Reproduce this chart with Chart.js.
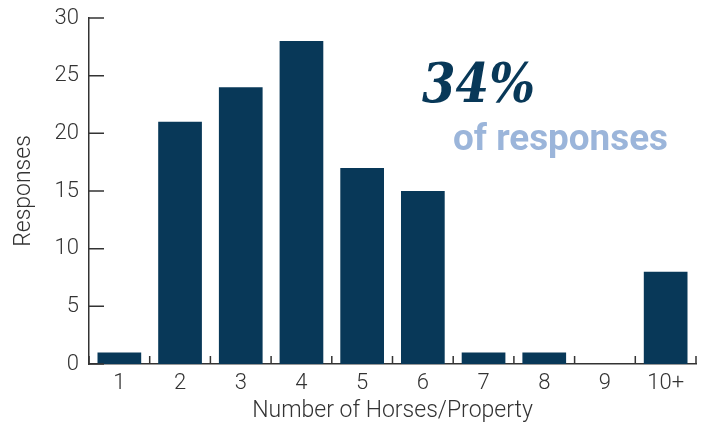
<!DOCTYPE html>
<html>
<head>
<meta charset="utf-8">
<script src="https://cdn.jsdelivr.net/npm/chart.js@4"></script>
<style>
  html, body { margin: 0; padding: 0; background: #fff; }
  #wrap { width: 706px; height: 425px; }
</style>
</head>
<body>
<div id="wrap"><canvas id="horses"></canvas></div>
<script>
const categories = ["1", "2", "3", "4", "5", "6", "7", "8", "9", "10+"]
const responses = [1, 21, 24, 28, 17, 15, 1, 1, 0, 8]
const yTicks = [0, 5, 10, 15, 20, 25, 30]

const barColor = "#083858"
const axisColor = "#333333"
const serifFont = "italic 700 54px 'DejaVu Serif', 'Liberation Serif', serif"

// ticks point into the plot, so draw them by hand from the scales
const inwardTicks = {
    id: "inwardTicks",
    afterDatasetsDraw(chart) {
        const { ctx, chartArea, scales } = chart
        ctx.save()
        ctx.strokeStyle = axisColor
        ctx.lineWidth = 1.5
        ctx.beginPath()
        yTicks.forEach(v => {
            const y = scales.y.getPixelForValue(v)
            ctx.moveTo(chartArea.left, y)
            ctx.lineTo(chartArea.left + 15, y)
        })
        for (let i = 0; i <= categories.length; i++) {
            const x = scales.x.getPixelForValue(i - 0.5)
            ctx.moveTo(x, chartArea.bottom)
            ctx.lineTo(x, chartArea.bottom - 8)
        }
        ctx.stroke()
        ctx.restore()
    }
}

const callout = {
    id: "callout",
    afterDraw(chart) {
        const { ctx } = chart
        ctx.save()
        ctx.fillStyle = barColor
        ctx.font = serifFont
        ctx.textBaseline = "alphabetic"
        const big = "34%"
        const bw = ctx.measureText(big).width
        ctx.save()
        ctx.translate(422, 102)
        ctx.scale(113 / bw, 1)
        ctx.fillText(big, 0, 0)
        ctx.restore()

        ctx.fillStyle = "#9bb5da"
        ctx.font = "bold 36px Roboto"
        const txt = "of responses"
        const w = ctx.measureText(txt).width
        ctx.translate(453, 150)
        ctx.scale(215 / w, 1)
        ctx.fillText(txt, 0, 0)
        ctx.restore()
    }
}

function draw() {
    new Chart(document.getElementById("horses"), {
        type: "bar",
        data: {
            labels: categories,
            datasets: [{
                label: "Responses",
                data: responses,
                backgroundColor: barColor,
                barPercentage: 0.72,
                categoryPercentage: 1
            }]
        },
        options: {
            responsive: true,
            maintainAspectRatio: false,
            animation: false,
            layout: { padding: { top: 18, right: 10, left: 0, bottom: 0 } },
            plugins: {
                legend: { display: false },
                tooltip: { enabled: false }
            },
            scales: {
                x: {
                    grid: { display: false, drawTicks: false },
                    border: { display: true, color: axisColor, width: 1.5 },
                    ticks: {
                        color: axisColor,
                        padding: 6,
                        font: { family: "Roboto", size: 22, weight: 300 }
                    },
                    title: {
                        display: true,
                        text: "Number of Horses/Property",
                        color: axisColor,
                        font: { family: "Roboto", size: 23, weight: 300 },
                        padding: { top: 0, bottom: 0 }
                    },
                    afterFit: s => { s.height = 61; s.paddingLeft = 0; s.paddingRight = 0 }
                },
                y: {
                    min: 0,
                    max: 30,
                    grid: { display: false, drawTicks: false },
                    border: { display: true, color: axisColor, width: 1.5 },
                    afterBuildTicks: s => { s.ticks = yTicks.map(v => ({ value: v })) },
                    ticks: {
                        color: axisColor,
                        padding: 10,
                        font: { family: "Roboto", size: 22, weight: 300 }
                    },
                    title: {
                        display: true,
                        text: "Responses",
                        color: axisColor,
                        font: { family: "Roboto", size: 23, weight: 300 },
                        padding: { top: 10, bottom: 0 }
                    },
                    afterFit: s => { s.width = 89; s.paddingTop = 0; s.paddingBottom = 0 }
                }
            }
        },
        plugins: [inwardTicks, callout]
    });
}

Promise.all([
    document.fonts.load(serifFont),
    document.fonts.load("bold 36px Roboto"),
    document.fonts.load("300 22px Roboto")
]).then(draw, draw)
</script>
</body>
</html>
